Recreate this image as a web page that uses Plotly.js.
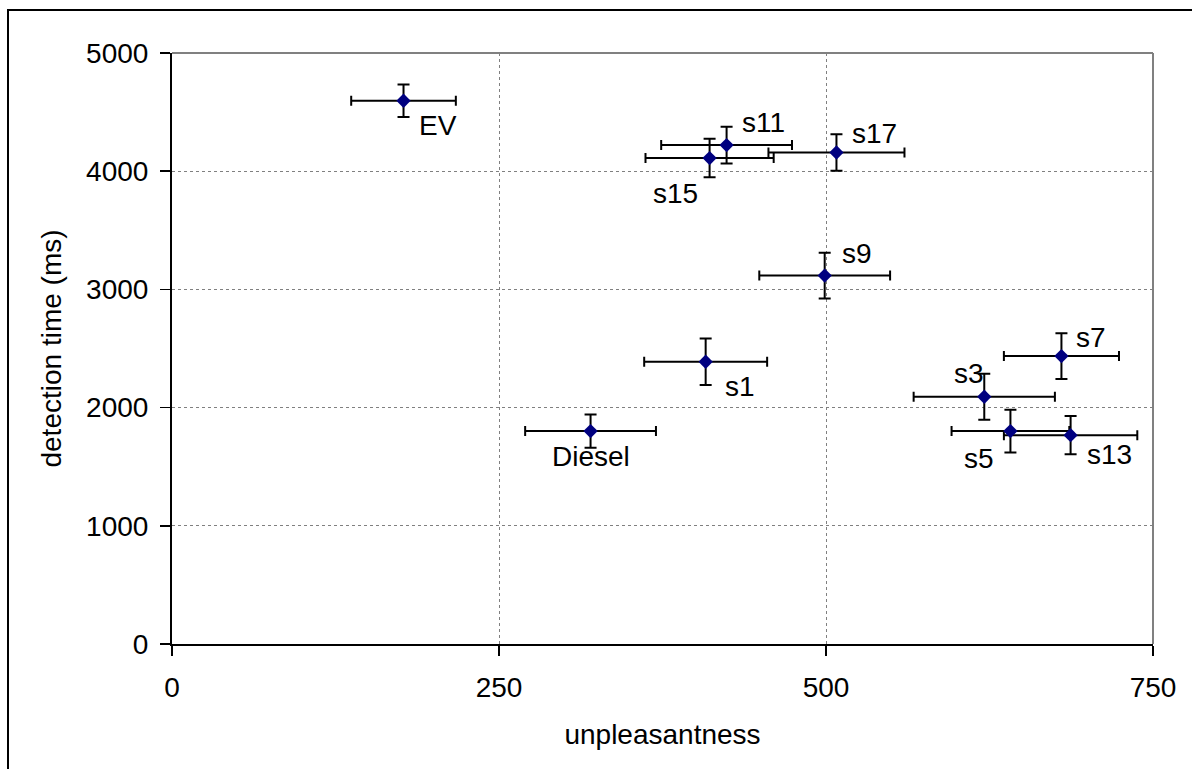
<!DOCTYPE html>
<html>
<head>
<meta charset="utf-8">
<script src="https://cdn.plot.ly/plotly-3.0.1.min.js"></script>
<style>
  html, body { margin: 0; padding: 0; width: 1192px; height: 769px; overflow: hidden; background: #ffffff; }
  #chart { position: absolute; left: 0; top: 0; width: 1192px; height: 769px; }
  #frame { position: absolute; left: 7px; top: 9px; width: 1400px; height: 1000px;
           border-left: 2.5px solid #000; border-top: 2.5px solid #000; pointer-events: none; }
</style>
</head>
<body>
<div id="chart"></div>
<div id="frame"></div>
<script>
// ---- data ----
const labels = ['EV', 'Diesel', 's1', 's3', 's5', 's7', 's9', 's11', 's13', 's15', 's17'];
const unpleasantness = [177, 320, 408, 621, 641, 680, 499, 424, 687, 411, 508];
const detectionTime = [4596, 1801, 2388, 2092, 1801, 2436, 3117, 4221, 1767, 4111, 4158];
const unpleasantnessErr = [40, 50, 47, 54, 45, 44, 50, 50, 51, 49, 52];
const detectionTimeErr = [137, 140, 197, 195, 180, 193, 193, 155, 161, 163, 154];
const xTicks = [0, 250, 500, 750];
const yTicks = [0, 1000, 2000, 3000, 4000, 5000];

// ---- label placement (layout only) ----
const labelPlacement = {
  'EV':     {xanchor: 'left',   xshift: 13,  yshift: -25},
  'Diesel': {xanchor: 'center', xshift: 0,   yshift: -25},
  's1':     {xanchor: 'left',   xshift: 17,  yshift: -25},
  's3':     {xanchor: 'right',  xshift: 2,   yshift: 23},
  's5':     {xanchor: 'right',  xshift: -14, yshift: -27},
  's7':     {xanchor: 'left',   xshift: 13,  yshift: 19},
  's9':     {xanchor: 'left',   xshift: 15,  yshift: 22},
  's11':    {xanchor: 'left',   xshift: 13,  yshift: 23},
  's13':    {xanchor: 'left',   xshift: 14,  yshift: -19},
  's15':    {xanchor: 'right',  xshift: -10, yshift: -35},
  's17':    {xanchor: 'left',   xshift: 14,  yshift: 19}
};

const FONT = 'Liberation Sans, Arial, sans-serif';
const FS = 28;

const trace = {
  type: 'scatter',
  mode: 'markers',
  x: unpleasantness,
  y: detectionTime,
  marker: {symbol: 'diamond', size: 11, color: '#000080', line: {width: 0}},
  error_x: {type: 'data', array: unpleasantnessErr, visible: true, color: '#000000', thickness: 2, width: 5},
  error_y: {type: 'data', array: detectionTimeErr, visible: true, color: '#000000', thickness: 2, width: 6},
  hoverinfo: 'skip',
  showlegend: false
};

const annotations = labels.map((t, i) => ({
  x: unpleasantness[i],
  y: detectionTime[i],
  xref: 'x', yref: 'y',
  text: t,
  showarrow: false,
  xanchor: labelPlacement[t].xanchor,
  yanchor: 'middle',
  xshift: labelPlacement[t].xshift,
  yshift: labelPlacement[t].yshift,
  font: {family: FONT, size: FS, color: '#000000'}
}));

const layout = {
  width: 1192,
  height: 769,
  paper_bgcolor: '#ffffff',
  plot_bgcolor: '#ffffff',
  margin: {l: 172, r: 39, t: 53, b: 125, pad: 0},
  font: {family: FONT, size: FS, color: '#000000'},
  showlegend: false,
  xaxis: {
    range: [0, 750],
    tickvals: xTicks,
    ticktext: xTicks.map(String),
    showgrid: true, gridcolor: '#808080', griddash: 'dot', gridwidth: 1,
    showline: true, linecolor: '#000000', linewidth: 2,
    ticks: 'outside', ticklen: 10, tickwidth: 1.5, tickcolor: '#000000',
    zeroline: false,
    tickfont: {family: FONT, size: FS, color: '#000000'},
    ticklabelstandoff: 7,
    title: {text: 'unpleasantness', font: {family: FONT, size: FS, color: '#000000'}, standoff: 23},
    automargin: false,
    fixedrange: true
  },
  yaxis: {
    range: [0, 5000],
    tickvals: yTicks,
    ticktext: yTicks.map(String),
    showgrid: true, gridcolor: '#808080', griddash: 'dot', gridwidth: 1,
    showline: true, linecolor: '#000000', linewidth: 2,
    ticks: 'outside', ticklen: 10, tickwidth: 1.5, tickcolor: '#000000',
    zeroline: false,
    tickfont: {family: FONT, size: FS, color: '#000000'},
    ticklabelstandoff: 6,
    title: {text: 'detection time (ms)', font: {family: FONT, size: FS, color: '#000000'}, standoff: 16},
    automargin: false,
    fixedrange: true
  },
  shapes: [
    {type: 'line', xref: 'paper', yref: 'paper', x0: 0, x1: 1, y0: 1, y1: 1, line: {color: '#808080', width: 2}},
    {type: 'line', xref: 'paper', yref: 'paper', x0: 1, x1: 1, y0: 0, y1: 1, line: {color: '#808080', width: 2}}
  ],
  annotations: annotations
};

Plotly.newPlot('chart', [trace], layout, {displayModeBar: false, staticPlot: true});
</script>
</body>
</html>
